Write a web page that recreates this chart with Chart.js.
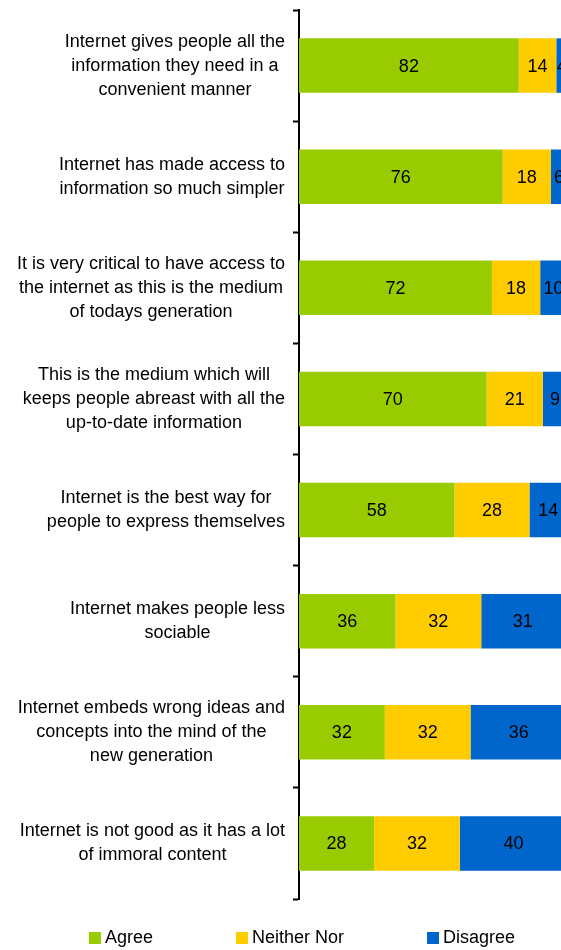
<!DOCTYPE html>
<html>
<head>
<meta charset="utf-8">
<title>Internet attitudes</title>
<script src="https://cdn.jsdelivr.net/npm/chart.js@4"></script>
<style>
  html, body { margin: 0; padding: 0; background: #fff; overflow: hidden; }
  #chart { display: block; }
</style>
</head>
<body>
<canvas id="chart" width="570" height="950"></canvas>
<script>
// Statements (one entry per bar, split into the lines shown)
const statements = [
  ['Internet gives people all the', 'information they need in a', 'convenient manner'],
  ['Internet has made access to', 'information so much simpler'],
  ['It is very critical to have access to', 'the internet as this is the medium', 'of todays generation'],
  ['This is the medium which will', 'keeps people abreast with all the', 'up-to-date information'],
  ['Internet is the best way for', 'people to express themselves'],
  ['Internet makes people less', 'sociable'],
  ['Internet embeds wrong ideas and', 'concepts into the mind of the', 'new generation'],
  ['Internet is not good as it has a lot', 'of immoral content']
];

const agree    = [82, 76, 72, 70, 58, 36, 32, 28];
const neither  = [14, 18, 18, 21, 28, 32, 32, 32];
const disagree = [4, 6, 10, 9, 14, 31, 36, 40];

const seriesNames = ['Agree', 'Neither Nor', 'Disagree'];
const seriesColors = ['#99CC00', '#FFCC00', '#0066CC'];

const FONT = '18px "Liberation Sans", Arial, sans-serif';

// category labels: block right-aligned to the axis, lines centred inside it
const statementLabels = {
  id: 'statementLabels',
  afterDraw(chart) {
    const ctx = chart.ctx;
    const y = chart.scales.y;
    const right = y.right - 14;
    const lineH = 24;
    ctx.save();
    ctx.font = FONT;
    ctx.fillStyle = '#000';
    ctx.textAlign = 'center';
    ctx.textBaseline = 'middle';
    chart.data.labels.forEach((lines, i) => {
      const cy = y.getPixelForValue(i);
      const w = Math.max(...lines.map(l => ctx.measureText(l).width));
      const cx = right - w / 2;
      const top = cy - (lines.length - 1) * lineH / 2;
      lines.forEach((l, j) => ctx.fillText(l, cx, top + j * lineH));
    });
    ctx.restore();
  }
};

// value printed in the middle of every segment
const segmentValues = {
  id: 'segmentValues',
  afterDatasetsDraw(chart) {
    const ctx = chart.ctx;
    ctx.save();
    ctx.font = FONT;
    ctx.fillStyle = '#000';
    ctx.textAlign = 'center';
    ctx.textBaseline = 'middle';
    chart.data.datasets.forEach((ds, di) => {
      chart.getDatasetMeta(di).data.forEach((bar, i) => {
        ctx.fillText(String(ds.data[i]), (bar.x + bar.base) / 2, bar.y + 1);
      });
    });
    ctx.restore();
  }
};

// legend row at the bottom
const bottomLegend = {
  id: 'bottomLegend',
  afterDraw(chart) {
    const ctx = chart.ctx;
    const box = 12, gap = 4, spacing = 83;
    ctx.save();
    ctx.font = FONT;
    ctx.textBaseline = 'middle';
    const widths = chart.data.datasets.map(ds => box + gap + ctx.measureText(ds.label).width);
    const total = widths.reduce((a, b) => a + b, 0) + spacing * (widths.length - 1);
    let x = 302 - total / 2;
    const cy = 938;
    chart.data.datasets.forEach((ds, i) => {
      ctx.fillStyle = ds.backgroundColor;
      ctx.fillRect(x, cy - box / 2, box, box);
      ctx.fillStyle = '#000';
      ctx.fillText(ds.label, x + box + gap, cy);
      x += widths[i] + spacing;
    });
    ctx.restore();
  }
};

new Chart(document.getElementById('chart'), {
  type: 'bar',
  data: {
    labels: statements,
    datasets: [agree, neither, disagree].map((d, i) => ({
      label: seriesNames[i],
      data: d,
      backgroundColor: seriesColors[i],
      borderWidth: 0,
      barPercentage: 0.49,
      categoryPercentage: 1
    }))
  },
  options: {
    indexAxis: 'y',
    responsive: false,
    animation: false,
    devicePixelRatio: 1,
    layout: { padding: { top: 10, bottom: 51, right: 3 } },
    plugins: {
      legend: { display: false },
      tooltip: { enabled: false }
    },
    scales: {
      x: {
        stacked: true,
        min: 0,
        max: 100,
        display: false
      },
      y: {
        stacked: true,
        afterFit(scale) { scale.width = 299; },
        ticks: { display: false },
        border: { display: true, color: '#000', width: 2 },
        grid: {
          offset: true,
          drawOnChartArea: false,
          drawTicks: true,
          tickLength: 6,
          tickWidth: 2,
          tickColor: '#000'
        }
      }
    }
  },
  plugins: [statementLabels, segmentValues, bottomLegend]
});
</script>
</body>
</html>
